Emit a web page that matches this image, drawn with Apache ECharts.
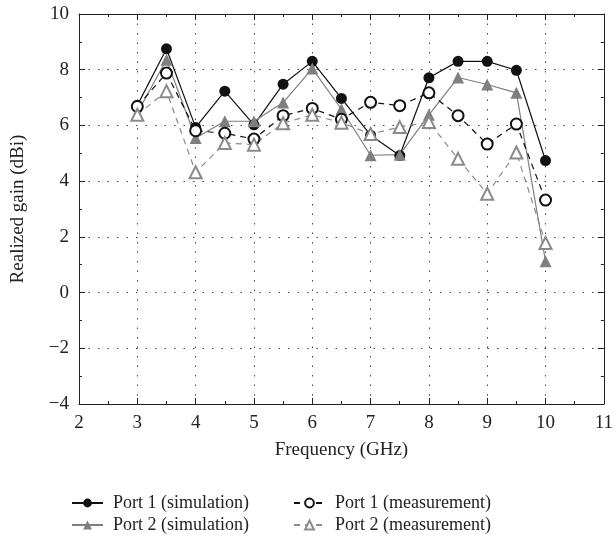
<!DOCTYPE html>
<html>
<head>
<meta charset="utf-8">
<script src="https://cdn.jsdelivr.net/npm/echarts@6/dist/echarts.min.js"></script>
<style>
  html, body { margin: 0; padding: 0; background: #fff; }
  #chart { width: 616px; height: 544px; }
</style>
</head>
<body>
<div id="chart"></div>
<script>
var freq = [3, 3.5, 4, 4.5, 5, 5.5, 6, 6.5, 7, 7.5, 8, 8.5, 9, 9.5, 10];
var port1Sim = [6.72, 8.75, 5.93, 7.23, 6.02, 7.48, 8.3, 6.97, 5.65, 4.92, 7.71, 8.3, 8.3, 7.98, 4.74];
var port2Sim = [6.45, 8.36, 5.55, 6.15, 6.15, 6.82, 8.04, 6.58, 4.93, 4.95, 6.38, 7.72, 7.47, 7.17, 1.12];
var port1Meas = [6.68, 7.88, 5.81, 5.72, 5.51, 6.35, 6.61, 6.22, 6.83, 6.71, 7.17, 6.35, 5.33, 6.05, 3.32];
var port2Meas = [6.38, 7.23, 4.32, 5.37, 5.31, 6.08, 6.38, 6.1, 5.69, 5.94, 6.12, 4.8, 3.55, 5.03, 1.78];
var seriesNames = ['Port 1 (simulation)', 'Port 2 (simulation)', 'Port 1 (measurement)', 'Port 2 (measurement)'];

var font = 'Liberation Serif';
var fs = 19;

var pairs = function (arr) {
    return freq.map(function (f, i) { return [f, arr[i]]; });
};

// mirrored axes on top / right to close the box
var boxAxis = {
    axisLine: { show: true, onZero: false, lineStyle: { color: '#222', width: 1 } },
    axisTick: { show: true, inside: true, length: 6, lineStyle: { color: '#222' } },
    minorTick: { show: true, splitNumber: 2, length: 3, lineStyle: { color: '#222' } },
    axisLabel: { show: false },
    splitLine: { show: false }
};

var dotted = { color: '#444', width: 1, type: [1.5, 8] };

var legendText = { fontFamily: font, fontSize: 18, color: '#222', padding: [0, 0, 0, 5] };

option = {
    animation: false,
    backgroundColor: '#fff',
    grid: { left: 79, top: 14, right: 8, bottom: 140 },
    legend: [
        {
            data: seriesNames.slice(0, 2),
            orient: 'vertical',
            left: 66, top: 489,
            itemWidth: 31, itemHeight: 11, itemGap: 4,
            textStyle: legendText
        },
        {
            data: seriesNames.slice(2, 4),
            orient: 'vertical',
            left: 288, top: 489,
            itemWidth: 31, itemHeight: 11, itemGap: 4,
            textStyle: legendText
        }
    ],
    xAxis: [
        {
            type: 'value', min: 2, max: 11, interval: 1,
            name: 'Frequency (GHz)', nameLocation: 'middle', nameGap: 37,
            nameTextStyle: { fontFamily: font, fontSize: fs, color: '#222' },
            axisLine: { show: true, onZero: false, lineStyle: { color: '#222', width: 1 } },
            axisTick: { show: true, inside: true, length: 6, lineStyle: { color: '#222' } },
            minorTick: { show: true, splitNumber: 2, length: 3, lineStyle: { color: '#222' } },
            axisLabel: { fontFamily: font, fontSize: fs, color: '#222', margin: 10 },
            splitLine: { show: true, lineStyle: dotted }
        },
        Object.assign({ type: 'value', min: 2, max: 11, interval: 1, position: 'top' }, boxAxis)
    ],
    yAxis: [
        {
            type: 'value', min: -4, max: 10, interval: 2,
            name: 'Realized gain (dBi)', nameLocation: 'middle', nameGap: 51,
            nameTextStyle: { fontFamily: font, fontSize: fs, color: '#222' },
            axisLine: { show: true, onZero: false, lineStyle: { color: '#222', width: 1 } },
            axisTick: { show: true, inside: true, length: 6, lineStyle: { color: '#222' } },
            minorTick: { show: true, splitNumber: 2, length: 3, lineStyle: { color: '#222' } },
            axisLabel: {
                fontFamily: font, fontSize: fs, color: '#222', margin: 10,
                formatter: function (v) { return v < 0 ? '\u2212' + Math.abs(v) : String(v); }
            },
            splitLine: { show: true, lineStyle: dotted }
        },
        Object.assign({ type: 'value', min: -4, max: 10, interval: 2, position: 'right' }, boxAxis)
    ],
    series: [
        {
            name: seriesNames[0],
            type: 'line',
            data: pairs(port1Sim),
            symbol: 'circle', symbolSize: 11,
            itemStyle: { color: '#111' },
            lineStyle: { color: '#111', width: 1.2 }
        },
        {
            name: seriesNames[1],
            type: 'line',
            data: pairs(port2Sim),
            symbol: 'triangle', symbolSize: 12,
            itemStyle: { color: '#7f7f7f' },
            lineStyle: { color: '#7f7f7f', width: 1.2 }
        },
        {
            name: seriesNames[2],
            type: 'line',
            data: pairs(port1Meas),
            symbol: 'emptyCircle', symbolSize: 11,
            itemStyle: { color: '#111', borderWidth: 1.2 },
            lineStyle: { color: '#111', width: 1.2, type: [6, 5] }
        },
        {
            name: seriesNames[3],
            type: 'line',
            data: pairs(port2Meas),
            symbol: 'emptyTriangle', symbolSize: 12,
            itemStyle: { color: '#8a8a8a', borderWidth: 1.2 },
            lineStyle: { color: '#8a8a8a', width: 1.2, type: [6, 5] }
        }
    ]
};

var myChart = echarts.init(document.getElementById('chart'));
myChart.setOption(option);
</script>
</body>
</html>
